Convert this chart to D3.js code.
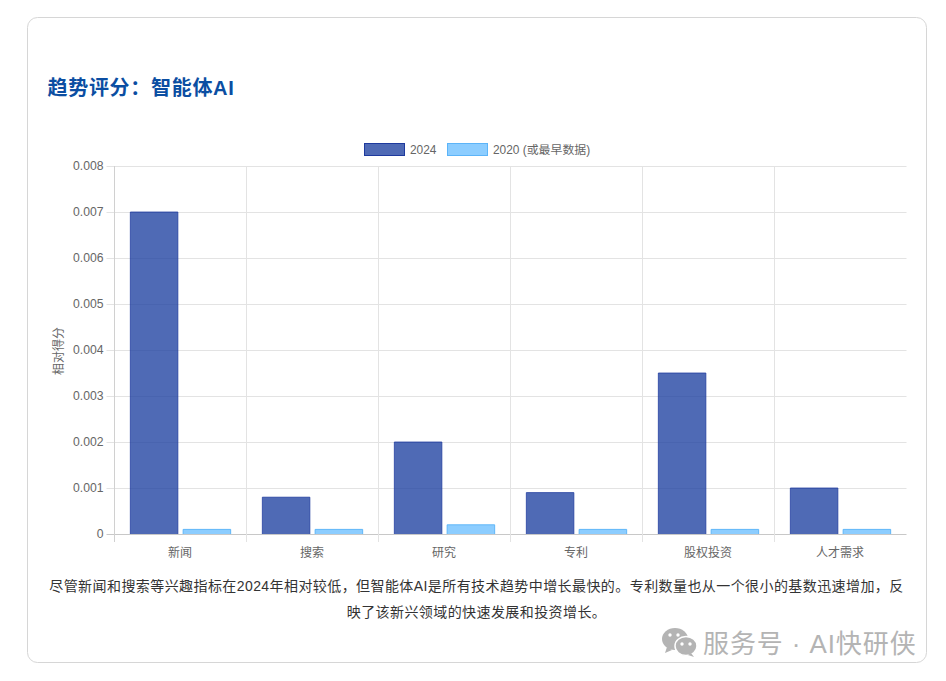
<!DOCTYPE html>
<html><head><meta charset="utf-8">
<script src="https://cdn.jsdelivr.net/npm/d3@7/dist/d3.min.js"></script>
<style>
html,body{margin:0;padding:0;background:#fff;}
svg{display:block;}
text{font-family:"Liberation Sans","Noto Sans CJK SC",sans-serif;}
</style></head><body><div id="c"></div>
<script>
const categories = ["新闻","搜索","研究","专利","股权投资","人才需求"];
const seriesNames = ["2024","2020 (或最早数据)"];
const values2024 = [0.007,0.0008,0.002,0.0009,0.0035,0.001];
const values2020 = [0.0001,0.0001,0.0002,0.0001,0.0001,0.0001];
const yTicks = [0,0.001,0.002,0.003,0.004,0.005,0.006,0.007,0.008];
const titleText = "趋势评分\uFF1A智能体AI";
const yLabel = "相对得分";
const bodyLines = ["尽管新闻和搜索等兴趣指标在2024年相对较低\uFF0C但智能体AI是所有技术趋势中增长最快的。专利数量也从一个很小的基数迅速增加\uFF0C反","映了该新兴领域的快速发展和投资增长。"];
const watermark = "服务号 · AI快研侠";

const fills = ["rgba(30,64,160,0.78)","rgba(96,186,255,0.72)"];
const strokes = ["#1e3a9e","#5cb4f8"];

const svg = d3.select("#c").append("svg").attr("width",946).attr("height",681);
svg.append("rect").attr("x",27.5).attr("y",17.5).attr("width",899).attr("height",645)
  .attr("rx",10).attr("fill","#fff").attr("stroke","#d6d6d6");
svg.append("text").attr("x",47.5).attr("y",95).attr("font-size",20).attr("font-weight",700)
  .attr("fill","#0b4ea2").attr("letter-spacing",0.7).text(titleText);

const L=114.5,R=906.5,T=166,B=534;
const x0=d3.scaleBand().domain(categories).range([L,R]);
const x1=d3.scaleBand().domain(seriesNames).range([0.1*x0.bandwidth(),0.9*x0.bandwidth()]).paddingInner(0.1).paddingOuter(0.05);
const y=d3.scaleLinear().domain([0,0.008]).range([B,T]);
const grid="#e3e3e3";
const gy=svg.append("g");
gy.selectAll("line").data(yTicks).join("line")
  .attr("x1",L-8).attr("x2",R).attr("y1",d=>Math.round(y(d))+.5).attr("y2",d=>Math.round(y(d))+.5)
  .attr("stroke",d=>d===0?"#c8c8c8":grid);
const xEdges=[...categories.map(c=>x0(c)),R];
svg.append("g").selectAll("line").data(xEdges).join("line")
  .attr("x1",d=>d).attr("x2",d=>d).attr("y1",T).attr("y2",B+8)
  .attr("stroke",(d,i)=>i===0?"#d0d0d0":grid)
  .attr("opacity",(d,i)=>i===categories.length?0:1);
svg.append("g").selectAll("text").data(yTicks).join("text")
  .attr("x",L-11).attr("y",d=>y(d)+4).attr("text-anchor","end").attr("font-size",12.2).attr("fill","#666")
  .text(d=>d===0?"0":d3.format(".3f")(d));
svg.append("g").selectAll("text").data(categories).join("text")
  .attr("x",d=>x0(d)+x0.bandwidth()/2-0.5).attr("y",557).attr("text-anchor","middle").attr("font-size",12).attr("fill","#666").text(d=>d);
svg.append("text").attr("transform",`translate(63,${(T+B)/2+1}) rotate(-90)`).attr("text-anchor","middle")
  .attr("font-size",12).attr("fill","#666").text(yLabel);
[values2024,values2020].forEach((vals,si)=>{
  const g=svg.append("g");
  g.selectAll("rect").data(vals).join("rect")
    .attr("x",(d,i)=>x0(categories[i])+x1(seriesNames[si]))
    .attr("y",d=>y(d)).attr("width",x1.bandwidth()).attr("height",d=>B-y(d)).attr("fill",fills[si]);
  const outline=(d,i)=>{
    const a=x0(categories[i])+x1(seriesNames[si]),b=a+x1.bandwidth(),t=y(d);
    return `M${a},${B}V${t}H${b}V${B}`;
  };
  g.selectAll("path").data(vals).join("path").attr("d",outline).attr("fill","none")
    .attr("stroke",strokes[si]).attr("stroke-width",1).attr("stroke-opacity",si===0?0.75:0.95);
});
const lx=[364,447];
const lg=svg.append("g");
seriesNames.forEach((s,i)=>{
  lg.append("rect").attr("x",lx[i]+.5).attr("y",143.5).attr("width",40).attr("height",12)
    .attr("fill",fills[i]).attr("stroke",strokes[i]);
  lg.append("text").attr("x",lx[i]+46).attr("y",154).attr("font-size",11.9).attr("fill","#666").text(s);
});
svg.append("g").selectAll("text").data(bodyLines).join("text")
  .attr("x",476.5).attr("y",(d,i)=>591+i*26).attr("text-anchor","middle").attr("font-size",14)
  .attr("fill","#333").attr("letter-spacing",0.42).text(d=>d);
const wm=svg.append("g").attr("fill","#b4b4b4");
wm.append("ellipse").attr("cx",675).attr("cy",639).attr("rx",13).attr("ry",11);
wm.append("path").attr("d","M667 647l-2 6 7-3z");
wm.append("ellipse").attr("cx",686).attr("cy",646).attr("rx",11).attr("ry",9.5).attr("stroke","#fff").attr("stroke-width",1.5);
wm.append("path").attr("d","M691 653l3 4-6-2z");
[[670,635],[678,635],[682,644],[690,644]].forEach(p=>wm.append("circle").attr("cx",p[0]).attr("cy",p[1]).attr("r",1.7).attr("fill","#fff"));
svg.append("text").attr("x",703).attr("y",652.5).attr("font-size",26).attr("letter-spacing",0.9).attr("fill","#b4b4b4").text(watermark);
</script></body></html>
